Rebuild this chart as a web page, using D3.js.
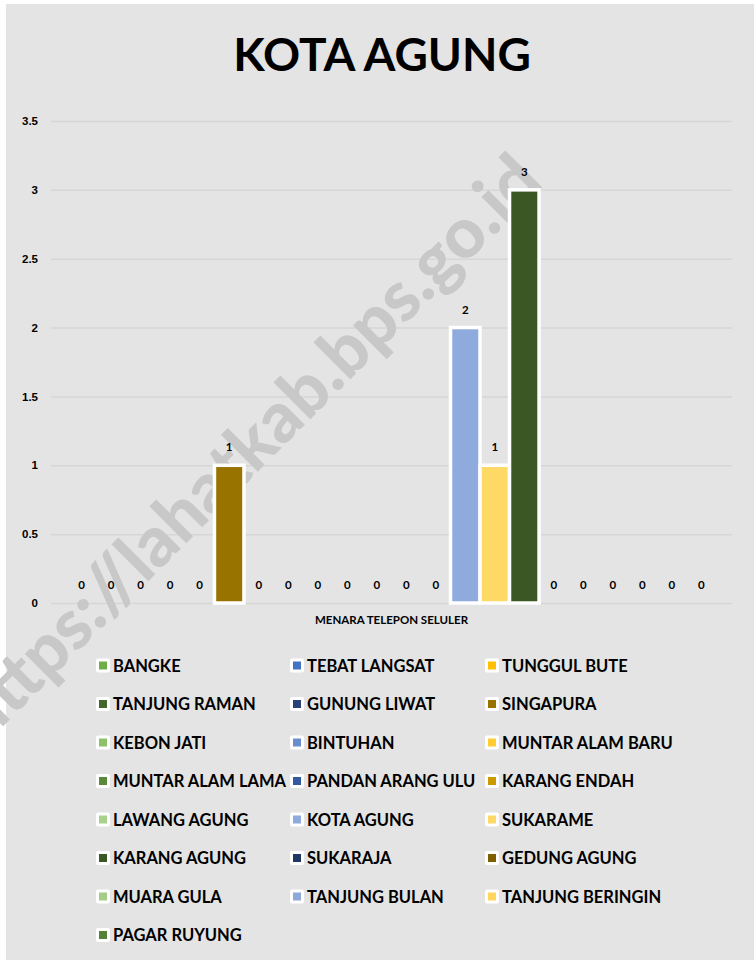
<!DOCTYPE html>
<html>
<head>
<meta charset="utf-8">
<script src="https://cdn.jsdelivr.net/npm/d3@7"></script>
<style>
  body { margin: 0; background: #fff; }
  svg { display: block; font-family: Lato, "Noto Sans", sans-serif; font-weight: bold; }
  .grid line { stroke: #d6d6d6; stroke-width: 1.5; }
  .grid path { display: none; }
  .grid text { font-size: 11.5px; fill: #000; font-weight: bold; }
</style>
</head>
<body>
<svg id="chart"></svg>
<script>
// data
const kategori = ['MENARA TELEPON SELULER'];
const desa = ['BANGKE', 'TEBAT LANGSAT', 'TUNGGUL BUTE', 'TANJUNG RAMAN', 'GUNUNG LIWAT',
  'SINGAPURA', 'KEBON JATI', 'BINTUHAN', 'MUNTAR ALAM BARU', 'MUNTAR ALAM LAMA',
  'PANDAN ARANG ULU', 'KARANG ENDAH', 'LAWANG AGUNG', 'KOTA AGUNG', 'SUKARAME',
  'KARANG AGUNG', 'SUKARAJA', 'GEDUNG AGUNG', 'MUARA GULA', 'TANJUNG BULAN',
  'TANJUNG BERINGIN', 'PAGAR RUYUNG'];
const nilai = [0, 0, 0, 0, 0, 1, 0, 0, 0, 0, 0, 0, 0, 2, 1, 3, 0, 0, 0, 0, 0, 0];
const yTicks = [0, 0.5, 1, 1.5, 2, 2.5, 3, 3.5];

const warna = ['#70ad47', '#4472c4', '#ffc000', '#43682b', '#264478', '#997300',
  '#8cc168', '#698ed0', '#ffcd33', '#5a8a39', '#335aa1', '#cc9a00',
  '#a9d18e', '#8faadc', '#ffd966', '#3a5724', '#203864', '#7f6000',
  '#a2cf85', '#8fa8da', '#ffd65c', '#548235'];

const w = 754, h = 960;
const plotLeft = 51, plotRight = 732, plotTop = 121, plotBottom = 603;

const svg = d3.select('#chart').attr('width', w).attr('height', h);

// background panel
svg.append('rect')
  .attr('x', 6).attr('y', 4)
  .attr('width', w - 6).attr('height', h - 4)
  .attr('fill', '#e4e4e4');

// title
svg.append('text')
  .attr('x', 382).attr('y', 71)
  .attr('text-anchor', 'middle')
  .attr('font-size', 46)
  .attr('fill', '#000')
  .text('KOTA AGUNG');

// scales
const x0 = d3.scaleBand()
  .domain(kategori)
  .range([plotLeft, plotRight])
  .paddingOuter(0.0245);

const x1 = d3.scaleBand()
  .domain(desa)
  .range([0, x0.bandwidth()]);

const y = d3.scaleLinear()
  .domain([0, 3.5])
  .range([plotBottom, plotTop]);

const color = d3.scaleOrdinal().domain(desa).range(warna);

// gridlines + tick labels
const yAxis = d3.axisLeft(y)
  .tickValues(yTicks)
  .tickFormat(d3.format('~g'))
  .tickSize(-(plotRight - plotLeft))
  .tickPadding(13);

svg.append('g')
  .attr('class', 'grid')
  .attr('transform', `translate(${plotLeft},0)`)
  .call(yAxis);

// watermark (behind the bars)
svg.append('text')
  .attr('transform', 'translate(252,452) rotate(-45)')
  .attr('text-anchor', 'middle')
  .attr('dominant-baseline', 'middle')
  .attr('font-size', 70)
  .attr('font-weight', 900)
  .attr('fill', '#c8c8c8')
  .text('https://lahatkab.bps.go.id');

const rows = desa.map((d, i) => ({ name: d, value: nilai[i], cat: kategori[0] }));

// bars
svg.append('g')
  .selectAll('rect')
  .data(rows)
  .enter()
  .append('rect')
  .attr('x', (d) => x0(d.cat) + x1(d.name))
  .attr('y', (d) => y(d.value))
  .attr('width', x1.bandwidth())
  .attr('height', (d) => y(0) - y(d.value))
  .attr('fill', (d) => color(d.name))
  .attr('stroke', '#fff')
  .attr('stroke-width', 3.5)
  .attr('display', (d) => d.value > 0 ? null : 'none');

// value labels
svg.append('g')
  .selectAll('text')
  .data(rows)
  .enter()
  .append('text')
  .attr('x', (d) => x0(d.cat) + x1(d.name) + x1.bandwidth() / 2)
  .attr('y', (d) => y(d.value) - 14)
  .attr('text-anchor', 'middle')
  .attr('font-size', 11.5)
  .attr('fill', '#000')
  .text((d) => d.value);

// category label
svg.append('text')
  .attr('x', x0(kategori[0]) + x0.bandwidth() / 2)
  .attr('y', 624)
  .attr('text-anchor', 'middle')
  .attr('font-size', 11.5)
  .attr('fill', '#000')
  .text(kategori[0]);

// legend, 3 columns
const colX = [96, 290, 485];
const legend = svg.append('g')
  .selectAll('g')
  .data(desa)
  .enter()
  .append('g')
  .attr('transform', (d, i) => `translate(${colX[i % 3]},${665.5 + Math.floor(i / 3) * 38.5})`);

legend.append('rect')
  .attr('x', 0).attr('y', -7)
  .attr('width', 14).attr('height', 14)
  .attr('rx', 2)
  .attr('fill', '#fff');

legend.append('rect')
  .attr('x', 3).attr('y', -4)
  .attr('width', 8).attr('height', 8)
  .attr('fill', (d) => color(d));

legend.append('text')
  .attr('x', 17)
  .attr('y', 0)
  .attr('dominant-baseline', 'central')
  .attr('font-size', 16.5)
  .attr('fill', '#000')
  .text((d) => d);
</script>
</body>
</html>
